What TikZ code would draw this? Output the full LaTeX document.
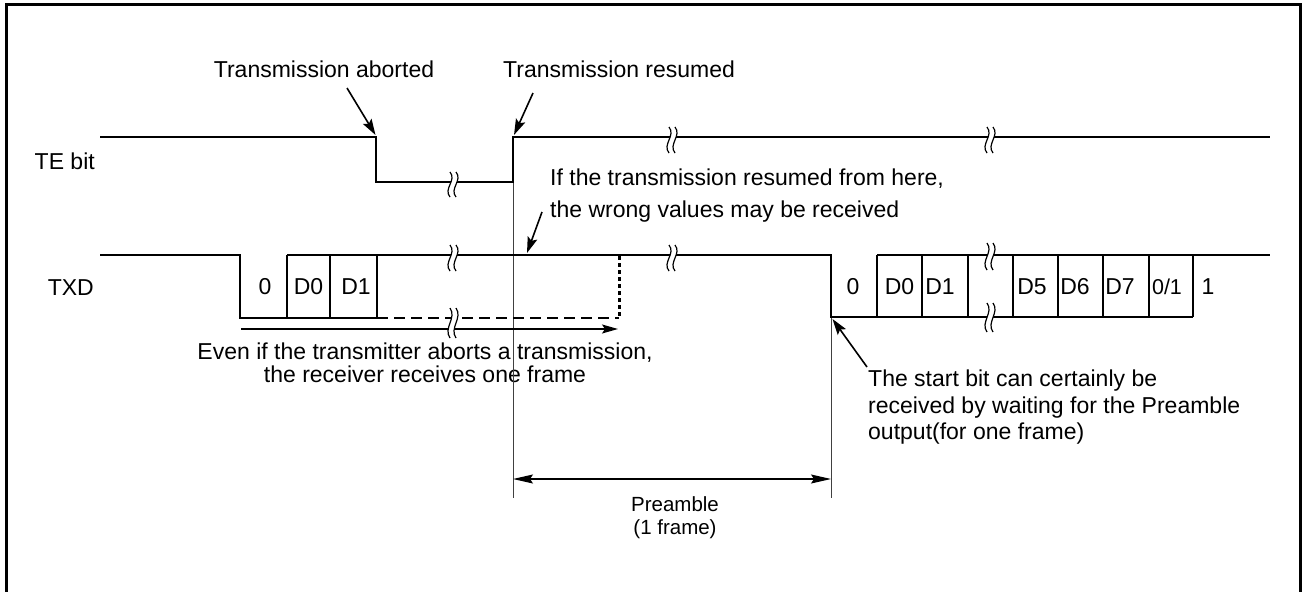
\documentclass[tikz,border=0pt]{standalone}
\usepackage{fontspec}
\setmainfont{Liberation Sans}
\usetikzlibrary{arrows.meta}
\newcommand\brkmark[3]{%
  \pgfmathsetmacro\bkh{(#3)-(#2)}%
  \fill[white] ({#1-3},#2) .. controls ({#1+4},{#2+\bkh/3}) and ({#1-10},{#2+2*\bkh/3}) .. ({#1-3},#3)
     -- ({#1+3},#3) .. controls ({#1-4},{#2+2*\bkh/3}) and ({#1+10},{#2+\bkh/3}) .. ({#1+3},#2) -- cycle;
  \draw[line width=1.2pt] ({#1-3},#2) .. controls ({#1+4},{#2+\bkh/3}) and ({#1-10},{#2+2*\bkh/3}) .. ({#1-3},#3);
  \draw[line width=1.2pt] ({#1+3},#2) .. controls ({#1+10},{#2+\bkh/3}) and ({#1-4},{#2+2*\bkh/3}) .. ({#1+3},#3);
}
\begin{document}
\begin{tikzpicture}[x=1pt,y=-1pt,
  sig/.style={line width=2pt, line join=miter, line cap=butt},
  guide/.style={line width=0.9pt, black!75},
  ptr/.style={line width=1.6pt, -{Stealth[length=16pt,width=10pt,inset=3pt]}},
  lbl/.style={inner sep=0pt, font=\fontsize{23}{27}\selectfont},
  small/.style={inner sep=0pt, font=\fontsize{20.5}{23}\selectfont},
]
\useasboundingbox (0,0) rectangle (1302,592);
% frame
\draw[line width=3pt] (6.5,594) -- (6.5,4.5) -- (1300,4.5) -- (1300,594);

% labels
\node[lbl, anchor=base east] (te) at (95,169) {TE bit};
\node[lbl, anchor=base east] (txd) at (94,295) {TXD};
\node[lbl, anchor=base] (abort) at (324,77.5) {Transmission aborted};
\node[lbl, anchor=base west] (resume) at (503,77.5) {Transmission resumed};
\node[lbl, anchor=north west, align=left, font=\fontsize{23}{31.5}\selectfont] (wrong) at (550,169)
  {If the transmission resumed from here,\\the wrong values may be received};
\node[lbl, anchor=north, align=center, font=\fontsize{23}{23}\selectfont] (even) at (425,343)
  {Even if the transmitter aborts a transmission,\\the receiver receives one frame};
\node[lbl, anchor=north west, align=left, font=\fontsize{23}{26.5}\selectfont] (start) at (868,370)
  {The start bit can certainly be\\received by waiting for the Preamble\\output(for one frame)};
\node[small, anchor=north, align=center] (pre) at (675,496.5) {Preamble\\(1 frame)};

% cell labels
\node[lbl, anchor=base] (a0) at (265,294.5) {0};
\node[lbl, anchor=base] (ad0) at (308.5,294.5) {D0};
\node[lbl, anchor=base] (ad1) at (356,294.5) {D1};
\node[lbl, anchor=base] (b0) at (853,294.5) {0};
\node[lbl, anchor=base] (bd0) at (899.5,294.5) {D0};
\node[lbl, anchor=base] (bd1) at (940,294.5) {D1};
\node[lbl, anchor=base] (bd5) at (1032,294.5) {D5};
\node[lbl, anchor=base] (bd6) at (1075,294.5) {D6};
\node[lbl, anchor=base] (bd7) at (1120,294.5) {D7};
\node[inner sep=0pt, font=\fontsize{21.5}{23}\selectfont, anchor=base] (bp) at (1167,294.5) {0/1};
\node[lbl, anchor=base] (bs) at (1208,294.5) {1};

% guide lines
\draw[guide] (513,182) -- (513,498);
\draw[guide] (831,317) -- (831,498);

% TE bit signal
\draw[sig] (100,137) -- (376,137) -- (376,182) -- (513,182) -- (513,137) -- (1270,137);

% TXD signal, first frame
\draw[sig] (100,255) -- (240,255) -- (240,318) -- (377,318);
\draw[sig] (287,255) -- (831,255) -- (831,317) -- (1193,317);
\foreach \xx in {287,330,377} \draw[sig] (\xx,255) -- (\xx,318);
\draw[line width=2pt, dash pattern=on 11pt off 6pt] (377,318) -- (619,318);
\draw[line width=3pt, dash pattern=on 4pt off 3pt] (619,256) -- (619,318);
% second frame
\draw[sig] (877,255) -- (1270,255);
\foreach \xx in {877,922,968,1013,1058,1103,1149,1193} \draw[sig] (\xx,255) -- (\xx,317);

% one-frame arrow
\coordinate (fs) at (241,329);
\coordinate (fe) at (618,329);
\draw[line width=1.5pt, -{Stealth[length=16pt,width=9pt,inset=3pt]}] (fs) -- (fe);

% preamble dimension
\coordinate (pl) at (513,479);
\coordinate (pr) at (831,479);
\draw[line width=1.2pt, {Stealth[length=20pt,width=9pt,inset=3pt]}-{Stealth[length=20pt,width=9pt,inset=3pt]}] (pl) -- (pr);

% break marks
\brkmark{453}{172}{197}
\brkmark{672}{127}{153}
\brkmark{990}{127}{153}
\brkmark{453}{245}{271}
\brkmark{672}{245}{271}
\brkmark{990}{243}{270}
\brkmark{453}{308}{338}
\brkmark{990}{303}{332}

% pointer arrows
\coordinate (t1) at (347,88);  \coordinate (h1) at (375.5,135);
\coordinate (t2) at (533,93);  \coordinate (h2) at (514,135);
\coordinate (t3) at (542,212); \coordinate (h3) at (527,253);
\coordinate (t4) at (867,367); \coordinate (h4) at (832.5,319);
\draw[ptr] (t1) -- (h1);
\draw[ptr] (t2) -- (h2);
\draw[ptr] (t3) -- (h3);
\draw[ptr] (t4) -- (h4);
\end{tikzpicture}
\end{document}
